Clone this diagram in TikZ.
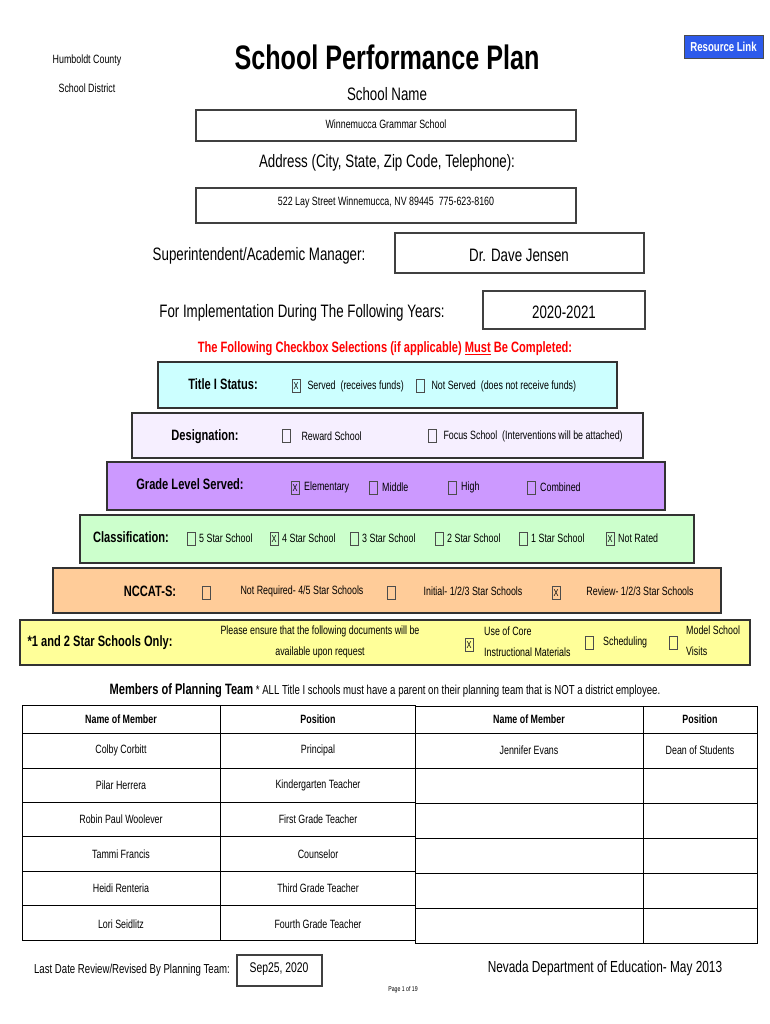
\documentclass[tikz,border=0pt]{standalone}
\usepackage{fontspec}
\setmainfont[FakeStretch=0.74]{Liberation Sans}
\usetikzlibrary{positioning}
\definecolor{titlecyan}{RGB}{204,255,255}
\definecolor{desiglav}{RGB}{246,239,255}
\definecolor{gradepurple}{RGB}{204,153,255}
\definecolor{classgreen}{RGB}{204,255,204}
\definecolor{nccatorange}{RGB}{255,204,153}
\definecolor{starsyellow}{RGB}{255,255,153}
\definecolor{linkblue}{RGB}{45,90,235}
\tikzset{
  fieldbox/.style={draw=black!75, line width=1.2pt},
  band/.style={draw=black!80, line width=1.2pt},
  cb/.style={draw=black!70, line width=0.6pt, minimum width=8pt, minimum height=13pt, inner sep=0pt, font=\fontsize{10}{10}\selectfont},
  lbl/.style={font=\fontsize{15}{15}\selectfont\bfseries},
  txt/.style={font=\fontsize{12}{13}\selectfont, inner sep=0pt},
  big/.style={font=\fontsize{18}{18}\selectfont},
  cell/.style={draw=black, line width=1pt}
}
\begin{document}
\begin{tikzpicture}[x=1pt,y=-1pt]
  \useasboundingbox (0,0) rectangle (770,1024);
  % header
  \node[txt] (county) at (87,60) {Humboldt County};
  \node[txt] (district) at (87,88) {School District};
  \node[font=\fontsize{34}{34}\selectfont\bfseries] (title) at (387,57) {School Performance Plan};
  \draw[fill=linkblue, draw=black!70, line width=1pt] (684,36) rectangle (763,59);
  \node[txt, text=white, font=\fontsize{13}{13}\selectfont\bfseries] (link) at (723.5,47) {Resource Link};
  \node[big] (schoolname) at (387,94) {School Name};
  \draw[fieldbox] (196,110) rectangle (576,141);
  \node[txt] (schoolval) at (386,124) {Winnemucca Grammar School};
  \node[big] (address) at (387,163) {Address (City, State, Zip Code, Telephone):};
  \draw[fieldbox] (196,188) rectangle (576,223);
  \node[txt] (addrval) at (386,202) {522 Lay Street Winnemucca, NV 89445\ \ 775-623-8160};
  \node[big] (super) at (259,256) {Superintendent/Academic Manager:};
  \draw[fieldbox] (395,233) rectangle (644,273);
  \node[big] (superval) at (519,255) {Dr. Dave Jensen};
  \node[big] (years) at (302,313) {For Implementation During The Following Years:};
  \draw[fieldbox] (483,291) rectangle (645,329);
  \node[big] (yearsval) at (564,312) {2020-2021};
  \node[text=red, font=\fontsize{15}{15}\selectfont\bfseries] (must) at (385,349)
    {The Following Checkbox Selections (if applicable) \underline{Must} Be Completed:};
  % bands
  \draw[band, fill=titlecyan] (158,362) rectangle (617,408);
  \draw[band, fill=desiglav] (132,413) rectangle (643,458);
  \draw[band, fill=gradepurple] (107,462) rectangle (665,510);
  \draw[band, fill=classgreen] (80,515) rectangle (694,563);
  \draw[band, fill=nccatorange] (53,568) rectangle (721,613);
  \draw[band, fill=starsyellow] (20,620) rectangle (750,665);
  % title I
  \node[lbl] (titlei) at (223,384) {Title I Status:};
  \node[cb] (cbserved) at (296,386) {X};
  \node[txt, anchor=west, right=7pt of cbserved] (served) {Served\ \ (receives funds)};
  \node[cb] (cbnotserved) at (420,386) {};
  \node[txt, anchor=west, right=7pt of cbnotserved] (notserved) {Not Served\ \ (does not receive funds)};
  % designation
  \node[lbl] (desig) at (205,437) {Designation:};
  \node[cb] (cbreward) at (286,436) {};
  \node[txt, right=11pt of cbreward] (reward) {Reward School};
  \node[cb] (cbfocus) at (432,436) {};
  \node[txt, right=7pt of cbfocus] (focus) {Focus School\ \ (Interventions will be attached)};
  % grade level
  \node[lbl] (grade) at (190,484) {Grade Level Served:};
  \foreach \xx/\mk/\nm in {295/X/Elementary,373//Middle,452//High,531//Combined}
    \node[cb] (cb\nm) at (\xx,488) {\mk} node[txt, anchor=west] at (\xx+9,487) {\nm};
  % classification
  \node[lbl] (class) at (131,537) {Classification:};
  \foreach \xx/\mk/\nm in {191//5 Star School,274/X/4 Star School,354//3 Star School,439//2 Star School,523//1 Star School,610/X/Not Rated}
    \node[cb] at (\xx,539) {\mk} node[txt, anchor=west] at (\xx+8,538) {\nm};
  % nccat
  \node[lbl] (nccat) at (150,591) {NCCAT-S:};
  \node[cb] (cbnotreq) at (206,593) {};
  \node[txt] (notreq) at (302,591) {Not Required- 4/5 Star Schools};
  \node[cb] (cbinitial) at (391,593) {};
  \node[txt] (initial) at (473,591) {Initial- 1/2/3 Star Schools};
  \node[cb] (cbreview) at (556,593) {X};
  \node[txt] (review) at (640,591) {Review- 1/2/3 Star Schools};
  % 1 and 2 star
  \node[lbl] (stars) at (100,643) {*1 and 2 Star Schools Only:};
  \node[txt, align=center, font=\fontsize{12}{21}\selectfont] (ensure) at (320,642)
    {Please ensure that the following documents will be\\available upon request};
  \node[cb] (cbcore) at (469,645) {X};
  \node[txt, anchor=west, align=left, font=\fontsize{12}{21}\selectfont] (core) at (484,642) {Use of Core\\Instructional Materials};
  \node[cb] (cbsched) at (589,643) {};
  \node[txt, anchor=west] (sched) at (603,642) {Scheduling};
  \node[cb] (cbvisits) at (673,643) {};
  \node[txt, anchor=west, align=left, font=\fontsize{12}{21}\selectfont] (visits) at (686,641) {Model School\\Visits};
  % planning team
  \node[font=\fontsize{13}{13}\selectfont] (members) at (385,691)
    {\textbf{\fontsize{15}{15}\selectfont Members of Planning Team} * ALL Title I schools must have a parent on their planning team that is NOT a district employee.};
  \draw[cell] (22,705) rectangle (415,940);
  \draw[cell] (220,705) -- (220,940);
  \foreach \yy in {733,768,802,836,871,905} \draw[cell] (22,\yy) -- (415,\yy);
  \draw[cell] (415,706) rectangle (757,943);
  \draw[cell] (643,706) -- (643,943);
  \foreach \yy in {733,768,803,838,873,908} \draw[cell] (415,\yy) -- (757,\yy);
  \node[txt, font=\fontsize{12}{12}\selectfont\bfseries] (hname) at (121,719) {Name of Member};
  \node[txt, font=\fontsize{12}{12}\selectfont\bfseries] (hpos) at (318,719) {Position};
  \node[txt, font=\fontsize{12}{12}\selectfont\bfseries] (hname2) at (529,719) {Name of Member};
  \node[txt, font=\fontsize{12}{12}\selectfont\bfseries] (hpos2) at (700,719) {Position};
  \foreach \yy/\nm/\ps in {750/Colby Corbitt/Principal,785/Pilar Herrera/Kindergarten Teacher,819/Robin Paul Woolever/First Grade Teacher,854/Tammi Francis/Counselor,888/Heidi Renteria/Third Grade Teacher,924/Lori Seidlitz/Fourth Grade Teacher}
    \node[txt] at (121,\yy) {\nm} node[txt] at (318,\yy) {\ps};
  \node[txt] (jennifer) at (529,750) {Jennifer Evans};
  \node[txt] (dean) at (700,750) {Dean of Students};
  % footer
  \node[font=\fontsize{13}{13}\selectfont] (lastdate) at (132,970) {Last Date Review/Revised By Planning Team:};
  \draw[fieldbox] (237,955) rectangle (322,986);
  \node[font=\fontsize{14}{14}\selectfont] (dateval) at (279,969) {Sep25, 2020};
  \node[font=\fontsize{16}{16}\selectfont] (nde) at (605,968) {Nevada Department of Education- May 2013};
  \node[font=\fontsize{7}{7}\selectfont] (page) at (403,990) {Page 1 of 19};
\end{tikzpicture}
\end{document}
